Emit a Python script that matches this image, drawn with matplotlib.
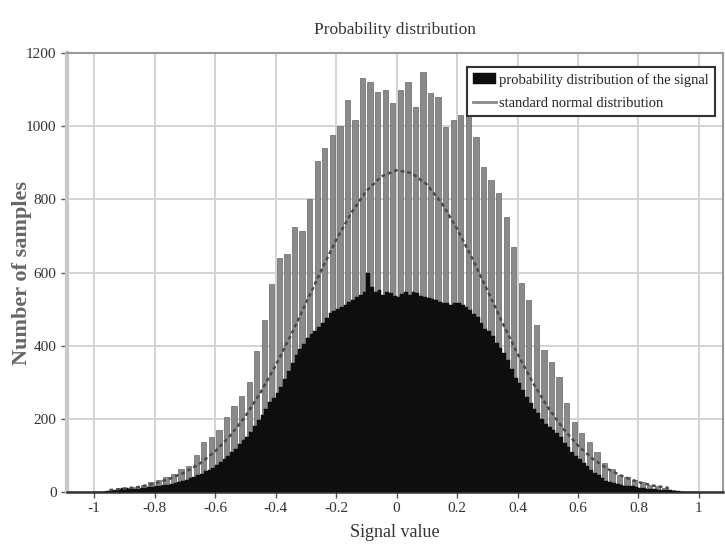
import numpy as np
import matplotlib
matplotlib.use("Agg")
import matplotlib.pyplot as plt

plt.rcParams['font.family'] = ['Liberation Serif', 'DejaVu Serif']
plt.rcParams['axes.unicode_minus'] = False

# gray histogram, bin width 0.025 from -1 to 1
gray_width = 0.025
gray_counts = [0, 2, 4, 8, 10, 14, 20, 26,
               34, 42, 50, 62, 72, 100, 137, 150,
               170, 205, 235, 262, 300, 385, 470, 570,
               640, 650, 724, 715, 800, 905, 940, 975,
               1000, 1071, 1016, 1131, 1120, 1093, 1098, 1063,
               1098, 1120, 1052, 1148, 1090, 1079, 998, 1016,
               1030, 1052, 970, 888, 852, 817, 751, 669,
               571, 525, 456, 388, 355, 314, 243, 191,
               160, 137, 109, 80, 62, 46, 40, 33,
               26, 20, 15, 11, 6, 3, 1, 0]

# black histogram, bin width 0.0125 from -1 to 1
black_width = 0.0125
black_counts = [0, 0, 1, 2, 3, 5, 9, 12,
                10, 8, 8, 9, 10, 12, 13, 14,
                16, 17, 19, 20, 22, 24, 26, 29,
                33, 37, 41, 45, 50, 56, 60, 66,
                74, 82, 90, 98, 108, 118, 130, 142,
                150, 165, 180, 196, 210, 228, 245, 258,
                270, 288, 310, 330, 352, 375, 392, 405,
                420, 432, 440, 451, 462, 475, 489, 494,
                500, 507, 512, 520, 525, 532, 540, 548,
                598, 560, 546, 552, 540, 548, 543, 536,
                533, 541, 546, 538, 548, 543, 536, 532,
                530, 527, 525, 520, 518, 516, 512, 516,
                516, 510, 505, 498, 488, 478, 462, 447,
                440, 426, 407, 395, 380, 360, 335, 312,
                298, 280, 260, 243, 228, 215, 200, 185,
                178, 170, 160, 150, 135, 122, 110, 98,
                90, 80, 70, 60, 52, 45, 38, 31,
                27, 24, 21, 19, 17, 16, 15, 14,
                12, 10, 9, 8, 7, 6, 5, 5,
                4, 3, 2, 1, 0, 0, 0, 0]

# standard normal distribution curve
curve_x = [-0.95, -0.9, -0.85, -0.8, -0.75, -0.7, -0.65, -0.6, -0.55, -0.5,
           -0.45, -0.4, -0.35, -0.3, -0.25, -0.2, -0.15, -0.1, -0.05, 0.0,
           0.05, 0.1, 0.15, 0.2, 0.25, 0.3, 0.35, 0.4, 0.45, 0.5,
           0.55, 0.6, 0.65, 0.7, 0.75, 0.8, 0.85, 0.9]
curve_y = [5, 9, 14, 23, 36, 54, 78, 111, 154, 207,
           272, 346, 428, 516, 604, 689, 763, 823, 863, 880,
           872, 841, 789, 720, 639, 552, 463, 378, 300, 232,
           174, 127, 90, 62, 42, 27, 17, 11]

x_ticks = [-1, -0.8, -0.6, -0.4, -0.2, 0, 0.2, 0.4, 0.6, 0.8, 1]
x_tick_labels = ['-1', '-0.8', '-0.6', '-0.4', '-0.2', '0', '0.2', '0.4', '0.6', '0.8', '1']
y_ticks = [0, 200, 400, 600, 800, 1000, 1200]

gray_centers = -1 + gray_width / 2 + gray_width * np.arange(len(gray_counts))
black_centers = -1 + black_width / 2 + black_width * np.arange(len(black_counts))

fig = plt.figure(figsize=(7.25, 5.54), dpi=100)
ax = fig.add_axes([0.0924, 0.112, 0.905, 0.792])

ax.bar(gray_centers, gray_counts, width=gray_width * 0.7, color='#8a8a8a',
       edgecolor='#666666', linewidth=0.5, zorder=2)
bars = ax.bar(black_centers, black_counts, width=black_width, color='#0e0e0e',
              edgecolor='#0e0e0e', linewidth=0.3, zorder=3)
ax.plot(curve_x, curve_y, color='#4a4a4a', linestyle=(0, (1.5, 1.2)),
        linewidth=1.8, zorder=4)
line_handle, = ax.plot([], [], color='#8a8a8a', linewidth=2)

ax.set_xlim(-1.09, 1.08)
ax.set_ylim(0, 1200)
ax.set_xticks(x_ticks)
ax.set_xticklabels(x_tick_labels)
ax.set_yticks(y_ticks)
ax.grid(True, color='#d4d4d4', linewidth=1.4, zorder=0)
ax.set_axisbelow(True)
ax.tick_params(direction='out', length=4, width=1, colors='#555555',
               labelcolor='#333333', labelsize=11)

for s in ['top', 'right']:
    ax.spines[s].set_color('#9a9a9a')
    ax.spines[s].set_linewidth(1.5)
ax.spines['left'].set_color('#c8c8c8')
ax.spines['left'].set_linewidth(3)
ax.spines['bottom'].set_color('#333333')
ax.spines['bottom'].set_linewidth(1.8)

ax.set_title('Probability distribution', fontsize=12.5, color='#333333', pad=14)
ax.set_xlabel('Signal value', fontsize=13, color='#333333', labelpad=6)
ax.set_ylabel('Number of samples', fontsize=16, fontweight='bold',
              color='#666666', va='center')
ax.yaxis.set_label_coords(-0.068, 0.5)

leg = ax.legend([bars, line_handle],
                ['probability distribution of the signal', 'standard normal distribution'],
                loc='upper right', bbox_to_anchor=(0.998, 0.985), fontsize=10.5,
                frameon=True, fancybox=False, handlelength=1.6,
                handletextpad=0.2, borderpad=0.4, labelspacing=0.7)
leg.get_frame().set_edgecolor('#333333')
leg.get_frame().set_linewidth(1.5)
leg.get_frame().set_alpha(1)
for t in leg.get_texts():
    t.set_color('#222222')

fig.savefig('out.png', dpi=100)
